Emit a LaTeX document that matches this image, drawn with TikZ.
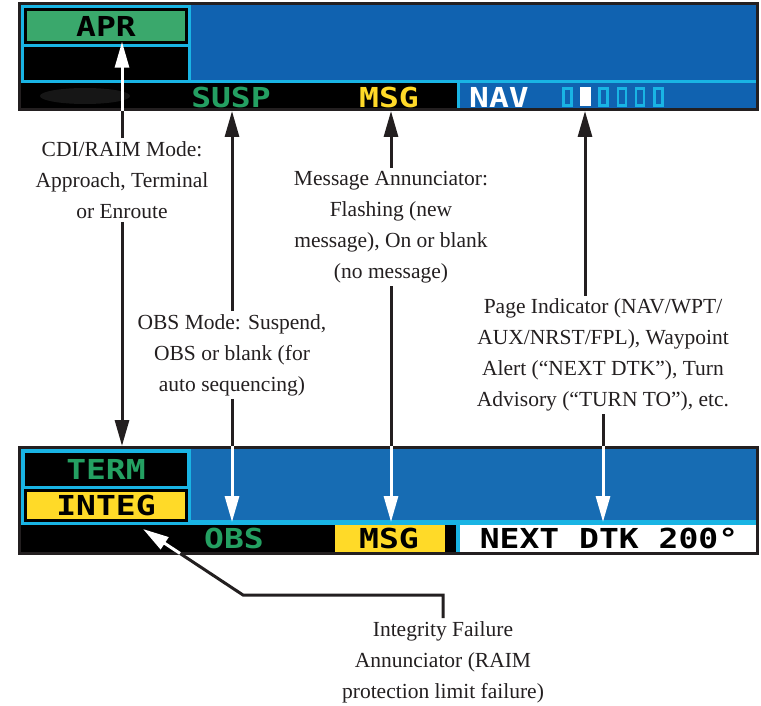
\documentclass[tikz,border=0pt]{standalone}
\usepackage{fontspec}
\setmainfont{Liberation Serif}
\newfontfamily\lcdfont[FakeStretch=1.2]{DejaVu Sans Mono}
\usetikzlibrary{arrows.meta}
\usetikzlibrary{calc}

\definecolor{scrblue}{RGB}{16,98,176}
\definecolor{scrbluelow}{RGB}{23,108,179}
\definecolor{scrcyan}{RGB}{25,180,228}
\definecolor{aprgreen}{RGB}{58,168,108}
\definecolor{lcdgreen}{RGB}{36,160,98}
\definecolor{lcdyellow}{RGB}{255,218,40}
\definecolor{ink}{RGB}{35,31,32}

\begin{document}
\begin{tikzpicture}[x=1pt,y=-1pt,
    lcd/.style={font=\lcdfont\bfseries\fontsize{27.5}{27.5}\selectfont,inner sep=0pt},
    callout/.style={text=ink,font=\fontsize{21.5}{31}\selectfont,align=center,inner sep=3pt},
    blk/.style={ink,line width=3pt},
    wht/.style={white,line width=3pt},
    pointer/.style={-{Triangle[length=26pt,width=14pt]}}]
            \useasboundingbox (0,0) rectangle (761,706);

            % upper screen
            \draw[ink,line width=3pt,fill=scrblue] (19.5,3.5) rectangle (757.5,109.5);
            \fill[scrcyan] (21,5) rectangle (191,83);
            \fill[scrcyan] (21,80) rectangle (756,83);
            \fill[black] (24,8) rectangle (188,44);
            \fill[black] (24,47) rectangle (188,80);
            \fill[black] (21,83) rectangle (457,108);
            \fill[scrcyan] (457,83) rectangle (460,108);
            \fill[black!75!white,opacity=0.35] (85,96) ellipse (45 and 8);

            \node[lcd,fill=aprgreen,minimum width=158pt,minimum height=30pt] (apr) at (106,26.5) {APR};
            \node[lcd,text=lcdgreen] (susp) at (231,97) {SUSP};
            \node[lcd,text=lcdyellow] (msg) at (389,97) {MSG};
            \node[lcd,text=white] (nav) at (499,97) {NAV};
            \node[fill=white,minimum width=11pt,minimum height=19pt,inner sep=0pt] (pg) at (585,97) {};
            \foreach \x in {567.5,603.5,622,640,658.5}
                \draw[scrcyan,line width=2.5pt] (\x-4.2,88.5) rectangle (\x+4.2,105.5);

            % lower screen
            \draw[ink,line width=3pt,fill=scrbluelow] (19.5,447.5) rectangle (757.5,553.5);
            \fill[scrcyan] (21,449) rectangle (191,525);
            \fill[scrcyan] (21,520) rectangle (756,525);
            \fill[black] (24,489) rectangle (188,522);
            \fill[black] (21,525) rectangle (457,552);
            \fill[lcdyellow] (335,525) rectangle (445,552);
            \fill[scrcyan] (456,525) rectangle (460,552);
            \fill[white] (460,525) rectangle (756,552);

            \node[lcd,fill=black,text=lcdgreen,minimum width=162pt,minimum height=33pt] (term) at (106,469.5) {TERM};
            \node[lcd,fill=lcdyellow,minimum width=158pt,minimum height=27pt] (integ) at (106,505.5) {INTEG};
            \node[lcd,text=lcdgreen] (obs) at (234,538.5) {OBS};
            \node[lcd] (msgb) at (389,538.5) {MSG};
            \node[lcd] (nextdtk) at (609,538.5) {NEXT DTK 200°};

            % callouts
            \node[callout] (cdi) at (122,180) {CDI/RAIM Mode:\\Approach, Terminal\\or Enroute};
            \node[callout] (obsl) at (232,355) {OBS Mode: Suspend,\\OBS or blank (for\\auto sequencing)};
            \node[callout] (msgl) at (391,227) {Message Annunciator:\\Flashing (new\\message), On or blank\\(no message)};
            \node[callout] (pagel) at (603,355) {Page Indicator (NAV/WPT/\\AUX/NRST/FPL), Waypoint\\Alert (``NEXT DTK''), Turn\\Advisory (``TURN TO''), etc.};
            \node[callout] (intl) at (443,662) {Integrity Failure\\Annunciator (RAIM\\protection limit failure)};

            \coordinate (topedge) at (0,111);
            \coordinate (botedge) at (0,446);
            \coordinate (botline) at (0,522);
            \coordinate (bend) at (243,595);
            \coordinate (intgtip) at (143,529);

            \draw[blk] (cdi.north) -- (cdi.north |- topedge);
            \draw[wht,pointer] (cdi.north |- topedge) -- (cdi.north |- apr.south);
            \draw[blk,pointer] (cdi.south) -- (cdi.south |- botedge);

            \draw[blk,pointer] (obsl.north) -- (obsl.north |- topedge);
            \draw[blk] (obsl.south) -- (obsl.south |- botedge);
            \draw[wht,pointer] (obsl.south |- botedge) -- (obsl.south |- botline);

            \draw[blk,pointer] (msgl.north) -- (msgl.north |- topedge);
            \draw[blk] (msgl.south) -- (msgl.south |- botedge);
            \draw[wht,pointer] (msgl.south |- botedge) -- (msgl.south |- botline);

            \draw[blk,pointer] (pagel.north -| pg) -- (pg |- topedge);
            \draw[blk] (pagel.south) -- (pagel.south |- botedge);
            \draw[wht,pointer] (pagel.south |- botedge) -- (pagel.south |- botline);

            \draw[blk] (intl.north) -- (intl.north |- bend) -- (bend) -- ($(bend)!0.63!(intgtip)$);
            \draw[wht,pointer] ($(bend)!0.63!(intgtip)$) -- (intgtip);
        \end{tikzpicture}
\end{document}
